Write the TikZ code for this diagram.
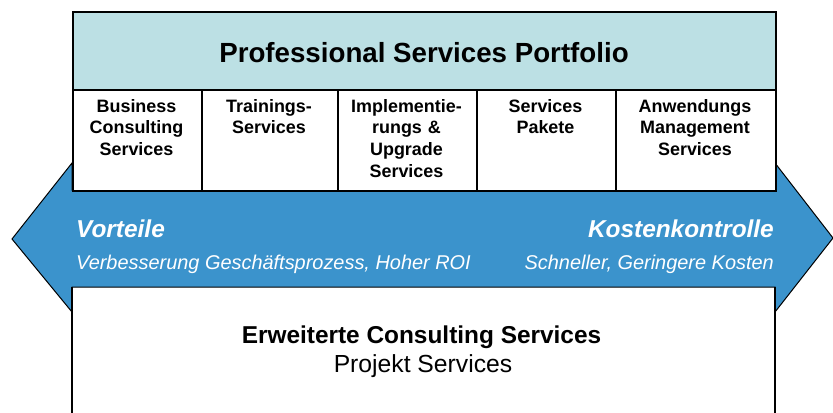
\documentclass[tikz,border=0pt]{standalone}
\usepackage{fontspec}
\setmainfont{Liberation Sans}
\definecolor{hdrfill}{RGB}{188,224,228}
\definecolor{arrfill}{RGB}{59,147,204}
\begin{document}
\begin{tikzpicture}[x=1bp,y=-1bp,
  box/.style={draw=black,line width=1.5bp,inner sep=0,anchor=north west},
  coltext/.style={font=\fontsize{18}{22}\selectfont\bfseries,align=center,text width=135bp,anchor=base,inner sep=0},
  arrowhead/.style={draw=black,line width=1bp,fill=arrfill,line join=miter},
  bigwhite/.style={font=\fontsize{24.5}{28}\selectfont\bfseries\itshape,text=white,inner sep=0},
  smallwhite/.style={font=\fontsize{20}{24}\selectfont\itshape,text=white,inner sep=0}]
\useasboundingbox (0,0) rectangle (833,412);
% double arrow
\draw[arrowhead] (12,239) -- (72,163) -- (72,190) -- (775,190) -- (775,163) -- (833,238)
  -- (775,312) -- (775,287) -- (72,287) -- (72,312) -- cycle;
% bottom box (open at bottom)
\draw[line width=1.5bp] (72,287) -- (72,413) (775,287) -- (775,413);
% header
\node[box,fill=hdrfill,minimum width=703bp,minimum height=78bp] (hdr) at (72,11) {};
\node[font=\fontsize{27.8}{30}\selectfont\bfseries,anchor=base,inner sep=0] (hdrtxt) at (424,62) {Professional Services Portfolio};
% columns
\node[box,fill=white,minimum width=129bp,minimum height=101bp] (c1) at (72,89) {};
\node[box,fill=white,minimum width=136bp,minimum height=101bp] (c2) at (201,89) {};
\node[box,fill=white,minimum width=139bp,minimum height=101bp] (c3) at (337,89) {};
\node[box,fill=white,minimum width=139bp,minimum height=101bp] (c4) at (476,89) {};
\node[box,fill=white,minimum width=160bp,minimum height=101bp] (c5) at (615,89) {};
\node[coltext] (t1) at (136.5,112) {Business\\Consulting\\Services};
\node[coltext] (t2) at (269,112) {Trainings-\\Services};
\node[coltext] (t3) at (406.5,112) {Implementie-\\rungs \&\\Upgrade\\Services};
\node[coltext] (t4) at (545.5,112) {Services\\Pakete};
\node[coltext] (t5) at (695,112) {Anwendungs\\Management\\Services};
% arrow texts
\node[bigwhite,anchor=base west] (vort) at (76,237) {Vorteile};
\node[smallwhite,anchor=base west] (vortsub) at (76,269) {Verbesserung Geschäftsprozess, Hoher ROI};
\node[bigwhite,anchor=base east] (kost) at (774,237) {Kostenkontrolle};
\node[smallwhite,anchor=base east] (kostsub) at (774,269) {Schneller, Geringere Kosten};
% bottom texts
\node[font=\fontsize{24.5}{28}\selectfont\bfseries,anchor=base,inner sep=0] (erw) at (421.5,343) {Erweiterte Consulting Services};
\node[font=\fontsize{24.8}{28}\selectfont,anchor=base,inner sep=0] (proj) at (423,372) {Projekt Services};
\end{tikzpicture}
\end{document}
